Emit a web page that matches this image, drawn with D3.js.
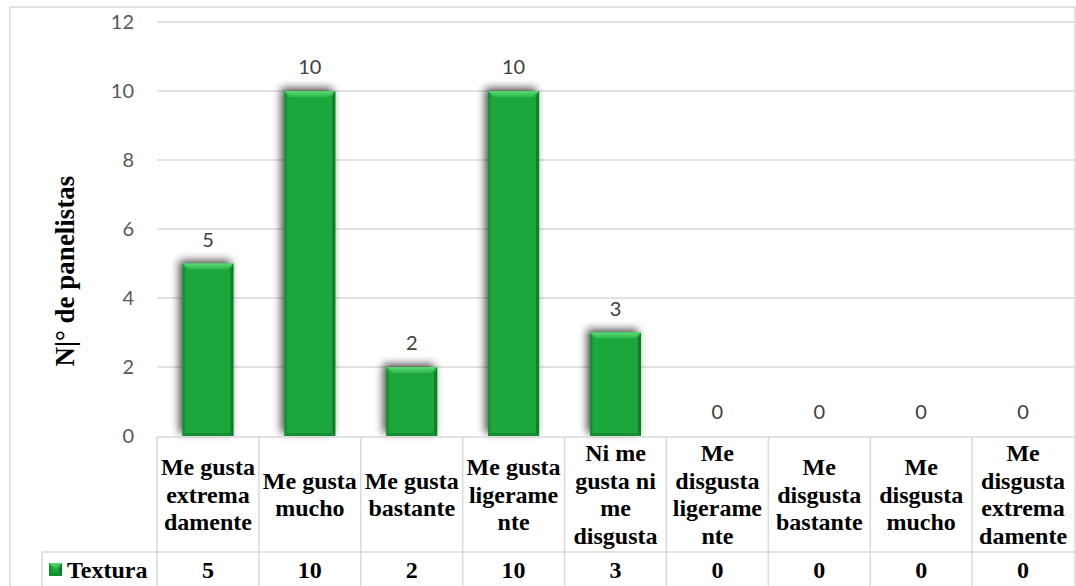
<!DOCTYPE html>
<html><head><meta charset="utf-8">
<script src="https://cdn.jsdelivr.net/npm/d3@7/dist/d3.min.js"></script>
<style>body{margin:0;background:#fff}svg{display:block}</style>
</head><body>
<svg id="c" width="1076" height="586"></svg>
<script>
const categories = [
  "Me gusta\nextrema\ndamente",
  "Me gusta\nmucho",
  "Me gusta\nbastante",
  "Me gusta\nligerame\nnte",
  "Ni me\ngusta ni\nme\ndisgusta",
  "Me\ndisgusta\nligerame\nnte",
  "Me\ndisgusta\nbastante",
  "Me\ndisgusta\nmucho",
  "Me\ndisgusta\nextrema\ndamente"
];
const seriesName = "Textura";
const values = [5, 10, 2, 10, 3, 0, 0, 0, 0];
const yTicks = [0, 2, 4, 6, 8, 10, 12];
const yTitle = "N|° de panelistas";

const svg = d3.select("#c");
const gridCol = "#d9d9d9";
const serif = "'Liberation Serif','Times New Roman',serif";
const sans = "Lato,'Open Sans',sans-serif";

const x = d3.scaleBand().domain(categories).range([157, 1074]).paddingInner(0.5).paddingOuter(0.25);
const y = d3.scaleLinear().domain([0, 12]).range([436, 22]);

// defs
const defs = svg.append("defs");
const f = defs.append("filter").attr("id", "sh").attr("x", "-50%").attr("y", "-50%").attr("width", "200%").attr("height", "200%");
f.append("feGaussianBlur").attr("in", "SourceAlpha").attr("stdDeviation", 4).attr("result", "b");
f.append("feOffset").attr("in", "b").attr("dx", -3).attr("dy", -3).attr("result", "o");
f.append("feComponentTransfer").attr("in", "o").attr("result", "o2")
  .append("feFuncA").attr("type", "linear").attr("slope", 0.7);
const m = f.append("feMerge");
m.append("feMergeNode").attr("in", "o2");
m.append("feMergeNode").attr("in", "SourceGraphic");

const tg = defs.append("linearGradient").attr("id", "topg").attr("x1", 0).attr("y1", 0).attr("x2", 0).attr("y2", 1);
tg.append("stop").attr("offset", 0).attr("stop-color", "#5ad974");
tg.append("stop").attr("offset", 1).attr("stop-color", "#2cb84b");

// outer border
svg.append("rect").attr("x", 10).attr("y", 7).attr("width", 1065).attr("height", 600)
  .attr("fill", "none").attr("stroke", gridCol).attr("stroke-width", 1.5);

// gridlines
svg.append("g").selectAll("line").data(yTicks.filter(d => d > 0)).join("line")
  .attr("x1", 157).attr("x2", 1074).attr("y1", d => y(d)).attr("y2", d => y(d))
  .attr("stroke", gridCol).attr("stroke-width", 1.5);

// y axis labels
const ya = svg.append("g").attr("transform", "translate(134,0)")
  .call(d3.axisLeft(y).tickValues(yTicks).tickSize(0).tickPadding(0));
ya.select(".domain").remove();
ya.selectAll("text").attr("font-family", sans).attr("font-size", 20).attr("fill", "#595959");

// y title
svg.append("text").attr("transform", "translate(65,271) rotate(-90)")
  .attr("text-anchor", "middle").attr("dominant-baseline", "central")
  .attr("font-family", serif).attr("font-weight", "bold").attr("font-size", 27).attr("fill", "#000")
  .text(yTitle);

// bars
function drawBar(g, bx, by, bw, bh) {
  if (bh <= 0) return;
  const b = Math.min(6, bh / 2);
  g.append("rect").attr("x", bx).attr("y", by).attr("width", bw).attr("height", bh).attr("fill", "#1ca73c");
  g.append("polygon").attr("points", [[bx, by], [bx + 2.5, by + b], [bx + 2.5, by + bh - 3], [bx, by + bh]].join(" ")).attr("fill", "#138f2e");
  g.append("polygon").attr("points", [[bx + bw, by], [bx + bw - 3, by + b], [bx + bw - 3, by + bh - 3], [bx + bw, by + bh]].join(" ")).attr("fill", "#0e7f26");
  g.append("polygon").attr("points", [[bx, by + bh], [bx + 2.5, by + bh - 3], [bx + bw - 3, by + bh - 3], [bx + bw, by + bh]].join(" ")).attr("fill", "#148d30");
  g.append("polygon").attr("points", [[bx, by], [bx + bw, by], [bx + bw - b, by + b], [bx + b, by + b]].join(" ")).attr("fill", "url(#topg)");
}
const bars = svg.append("g");
categories.forEach((c, i) => {
  const v = values[i];
  if (v <= 0) return;
  const g = bars.append("g").attr("filter", "url(#sh)");
  drawBar(g, x(c), y(v), x.bandwidth(), y(0) - y(v));
});

// data labels
svg.append("g").selectAll("text").data(categories).join("text")
  .attr("x", d => x(d) + x.bandwidth() / 2)
  .attr("y", (d, i) => y(values[i]) - 25)
  .attr("text-anchor", "middle").attr("dominant-baseline", "central")
  .attr("font-family", sans).attr("font-size", 20).attr("fill", "#404040")
  .text((d, i) => values[i]);

// data table
const step = x.step();
const colLeft = c => x(c) - step * 0.25;
const tb = svg.append("g").attr("stroke", gridCol).attr("stroke-width", 1.5);
tb.append("line").attr("x1", 157).attr("x2", 1075).attr("y1", 437).attr("y2", 437);
tb.append("line").attr("x1", 42).attr("x2", 1075).attr("y1", 552).attr("y2", 552);
tb.append("line").attr("x1", 42).attr("x2", 42).attr("y1", 552).attr("y2", 600);
categories.forEach(c => {
  tb.append("line").attr("x1", colLeft(c)).attr("x2", colLeft(c)).attr("y1", 437).attr("y2", 600);
});

// category labels
const lh = 27.5;
categories.forEach(c => {
  const lines = c.split("\n");
  const cx = x(c) + x.bandwidth() / 2;
  const y0 = 494.5 - (lines.length - 1) * lh / 2;
  const t = svg.append("text").attr("text-anchor", "middle").attr("font-family", serif)
    .attr("font-weight", "bold").attr("font-size", 24).attr("fill", "#000");
  lines.forEach((l, k) => {
    t.append("tspan").attr("x", cx).attr("y", y0 + k * lh).attr("dominant-baseline", "central").text(l);
  });
});

// value row
svg.append("g").selectAll("text").data(categories).join("text")
  .attr("x", d => x(d) + x.bandwidth() / 2).attr("y", 570)
  .attr("text-anchor", "middle").attr("dominant-baseline", "central")
  .attr("font-family", serif).attr("font-weight", "bold").attr("font-size", 24).attr("fill", "#000")
  .text((d, i) => values[i]);

// legend
const lg = svg.append("g");
drawBar(lg, 49, 563, 13, 13);
svg.append("text").attr("x", 67).attr("y", 570).attr("dominant-baseline", "central")
  .attr("font-family", serif).attr("font-weight", "bold").attr("font-size", 24).attr("fill", "#000")
  .text(seriesName);
</script>
</body></html>
